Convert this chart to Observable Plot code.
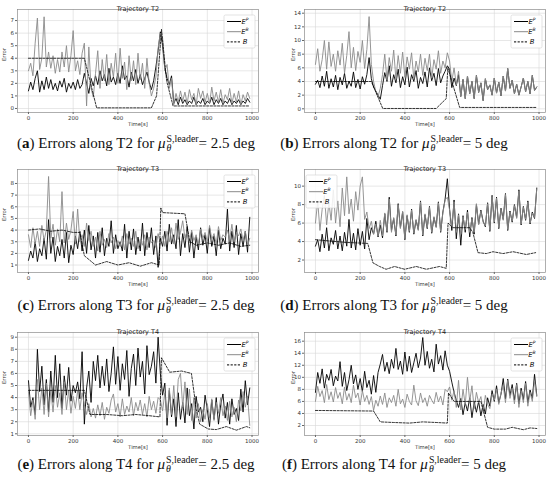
<!DOCTYPE html>
<html>
<head>
<meta charset="utf-8">
<script src="https://cdn.jsdelivr.net/npm/d3@7"></script>
<script src="https://cdn.jsdelivr.net/npm/@observablehq/plot@0.6"></script>
<style>
  html, body { margin: 0; padding: 0; background: #fff; }
  #root { position: relative; width: 550px; height: 485px; background: #fff; overflow: hidden; }
  .cell { position: absolute; }
  .cap { position: absolute; width: 275px; text-align: center; font-family: "Liberation Serif", "DejaVu Serif", serif; font-size: 15px; color: #111; white-space: nowrap; line-height: 18px; }
  .ss { display: inline-block; vertical-align: -0.35em; font-size: 0.66em; line-height: 0.95; text-align: left; margin-left: 1px; }
</style>
</head>
<body>
<div id="root"></div>
<script>
// ---------------- data (time step 10 s, t = 0 … 990) ----------------
const timeStep = 10;
const xTicks = [0, 200, 400, 600, 800, 1000];

// (a) T2, 2.5 deg
const a_EP = [1.4,2.1,1.5,2.4,3.0,1.3,2.2,1.5,2.5,1.6, 2.3,1.5,2.0,1.4,2.2,1.7,2.4,1.3,2.0,1.6,
  2.1,1.5,2.3,1.6,1.9,2.8,2.0,1.2,2.4,1.8, 2.6,1.9,3.0,2.2,2.7,1.8,3.2,2.1,2.5,1.9,
  2.8,2.0,3.4,2.3,2.6,1.7,2.9,2.2,3.1,2.0, 2.7,1.9,2.4,2.9,2.1,1.5,2.2,3.3,4.6,6.1,
  5.0,3.2,2.4,1.9,2.6,0.4,0.8,0.3,0.9,0.4, 0.7,0.3,0.6,0.4,0.9,0.3,0.6,0.4,0.8,0.3,
  0.6,0.4,0.9,0.3,0.7,0.4,0.8,0.3,0.6,0.4, 0.8,0.3,0.6,0.4,0.7,0.3,0.6,0.4,0.8,0.5];
const a_EB = [3.0,3.6,2.6,5.2,7.2,3.1,4.0,7.3,3.3,4.5, 3.2,4.2,2.8,3.9,2.9,4.5,3.3,5.0,2.9,4.2,
  6.2,3.0,3.8,2.7,4.4,5.2,0.2,4.9,1.6,0.9, 2.8,4.6,1.6,3.9,2.2,4.3,1.9,3.6,2.5,4.4,
  2.0,4.8,2.4,3.7,1.5,4.2,2.2,3.8,1.9,4.4, 2.3,3.6,1.6,4.0,2.0,1.0,1.6,2.5,4.8,6.0,
  5.6,3.0,3.5,1.6,2.4,0.3,1.2,0.5,1.4,0.6, 1.3,0.4,1.5,0.7,1.2,0.3,1.6,0.8,1.4,0.5,
  1.2,0.4,1.7,0.6,1.3,0.5,1.5,0.4,1.1,0.7, 1.6,0.4,1.2,0.5,1.4,0.3,1.1,0.6,1.3,0.8];
const a_Bt = [0, 250, 305, 550, 573, 595, 618, 647, 990];
const a_Bv = [4.0, 4.0, 0.05, 0.05, 1.0, 6.3, 2.2, 0.2, 0.2];

// (b) T2, 5 deg
const b_EP = [3.6,4.2,3.1,4.8,3.3,5.5,3.0,4.4,3.2,4.9, 2.8,4.6,3.5,5.2,3.0,4.0,3.3,5.4,3.1,4.3,
  2.9,4.7,3.6,5.0,7.5,4.4,3.2,2.6,2.0,1.4, 3.4,5.3,4.0,6.3,3.3,5.0,3.8,5.8,3.1,4.7,
  3.5,6.1,3.2,5.0,4.0,5.6,3.0,4.6,3.7,5.4, 3.2,6.0,4.1,5.2,3.4,5.9,3.8,4.8,5.5,6.3,
  5.8,3.1,4.5,3.4,5.0,1.8,4.3,1.5,4.8,2.2, 4.0,1.5,4.9,2.4,3.8,1.2,4.4,2.8,3.5,2.0,
  4.5,2.3,3.9,1.9,4.8,2.6,5.9,3.0,4.2,2.2, 3.6,2.0,3.2,4.5,2.5,4.0,2.2,4.9,2.7,3.2];
const b_EB = [6.5,8.8,5.5,7.2,10.0,5.8,9.8,6.2,8.0,5.5, 8.5,6.4,9.6,5.2,7.8,11.3,6.0,9.0,5.6,8.4,
  6.8,10.0,5.9,8.7,13.5,6.5,4.0,2.5,1.8,3.0, 5.0,8.0,4.2,7.5,5.5,8.6,4.3,7.8,5.2,8.3,
  4.6,7.6,5.8,8.2,4.4,7.0,5.4,8.0,4.9,7.4, 5.6,8.0,4.5,7.2,5.8,8.5,5.2,7.0,6.0,8.2,
  7.0,4.0,6.0,3.5,5.5,1.8,4.3,1.5,4.8,2.2, 4.0,1.5,4.9,2.4,3.8,1.2,4.4,2.8,3.5,2.0,
  4.5,2.3,3.9,1.9,4.8,2.6,5.9,3.0,4.2,2.2, 3.6,2.0,3.2,4.5,2.5,4.0,2.2,4.9,2.7,3.2];
const b_Bt = [0, 250, 301, 540, 585, 592, 645, 990];
const b_Bv = [4.0, 4.0, 0.05, 0.05, 1.5, 6.0, 0.2, 0.2];

// (c) T3, 2.5 deg
const c_EP = [1.4,2.2,1.6,3.0,1.3,2.4,1.8,3.3,1.5,4.9, 2.0,3.4,1.3,2.6,1.8,3.2,1.6,3.8,1.2,2.7,
  1.9,3.5,2.4,3.9,2.2,4.0,2.0,4.4,2.3,3.5, 1.6,3.8,2.1,4.2,1.8,3.3,2.6,4.8,2.0,3.6,
  2.4,3.0,2.2,4.5,1.6,3.9,2.3,4.1,1.9,3.4, 2.2,4.6,1.8,3.8,2.5,4.2,1.9,3.5,0.8,3.3,
  2.6,3.9,2.2,4.5,2.8,3.6,2.4,4.9,1.8,3.7, 2.5,4.3,2.1,3.8,1.6,3.4,2.3,4.2,2.7,3.6,
  2.0,4.2,2.6,3.5,1.8,4.0,2.4,3.3,2.8,5.8, 2.2,3.9,2.5,4.4,1.9,3.7,2.6,3.9,2.1,5.1];
const c_EB = [3.6,2.5,4.2,2.8,3.9,2.6,4.4,3.1,4.0,8.6, 3.3,4.5,2.7,4.1,3.0,7.3,2.9,4.6,3.2,4.0,
  5.6,2.8,5.8,3.0,3.6,2.6,4.6,3.1,3.9,2.6, 3.4,2.2,3.9,2.7,3.2,2.5,3.7,2.9,3.4,2.4,
  3.1,2.6,3.5,2.3,3.7,2.8,3.3,2.6,3.9,2.4, 3.2,2.7,3.6,2.3,3.4,2.9,3.1,2.5,3.7,2.8,
  3.5,2.6,3.9,3.0,4.2,2.8,4.6,3.2,3.8,4.8, 3.3,3.9,2.9,4.0,3.1,3.6,2.7,4.1,3.3,3.8,
  3.0,4.4,3.2,3.7,2.8,4.3,3.1,3.6,3.4,4.0, 3.2,4.5,3.0,3.8,3.5,4.1,3.1,3.9,2.7,3.3];
const c_Bt = [0,50,100,150,200,230,250,300,350,400,450,500,550,585,592,600,700,722,751,800,850,900,950,990];
const c_Bv = [4.0,4.1,3.9,4.0,3.8,3.8,1.8,1.0,1.3,1.0,1.2,0.9,1.2,1.0,5.9,5.5,5.4,3.0,2.7,2.9,2.7,2.9,2.6,2.7];

// (d) T3, 5 deg
const d_EP = [3.5,4.2,2.9,4.8,3.3,5.5,3.0,4.4,3.7,5.2, 3.2,4.6,3.0,5.0,3.5,6.4,3.3,4.9,3.1,5.4,
  3.6,5.1,3.2,6.5,4.2,5.5,4.8,6.2,4.5,5.8, 4.4,7.0,5.0,8.8,5.2,6.5,4.6,8.1,5.5,7.2,
  4.2,6.8,5.0,7.5,4.8,6.3,5.3,8.4,4.6,6.9, 5.4,7.8,4.9,6.6,5.6,8.3,5.0,7.2,8.6,10.8,
  7.5,5.2,8.5,4.3,7.0,3.6,6.8,5.0,7.4,4.5, 6.6,4.8,8.0,5.9,7.4,6.2,5.6,8.2,5.1,9.0,
  6.0,8.8,5.4,7.6,6.4,9.2,5.2,7.3,6.1,8.0, 6.6,9.6,5.8,7.8,6.3,8.4,5.9,7.2,6.5,9.8];
const d_EB = [6.0,8.4,5.2,7.5,9.0,5.8,8.2,6.3,9.6,6.0, 8.4,5.6,9.8,6.8,11.0,7.0,8.6,6.2,9.4,7.4,
  10.0,11.0,6.4,7.2,5.4,6.2,4.8,5.9,4.6,6.3, 4.6,7.1,5.1,8.6,5.0,6.6,4.7,8.0,5.4,7.3,
  4.3,6.9,5.1,7.4,4.9,6.4,5.2,8.3,4.7,7.0, 5.5,7.7,5.0,6.7,5.5,8.2,5.1,7.1,8.5,8.8,
  7.4,5.6,8.3,5.0,6.9,4.8,6.7,5.3,7.2,5.0, 6.5,5.0,8.1,5.8,7.3,6.1,5.7,8.1,5.2,8.9,
  6.1,8.7,5.5,7.5,6.3,9.1,5.3,7.2,6.2,7.9, 6.5,9.5,5.9,7.7,6.4,8.3,6.0,7.1,6.6,9.7];
const d_Bt = [0,140,234,257,287,316,354,399,451,496,555,585,593,615,690,704,727,764,794,839,884,943,985];
const d_Bv = [4.2,3.9,3.8,1.7,1.3,1.0,1.3,1.0,1.3,1.0,1.3,1.1,6.0,5.5,5.5,5.0,2.8,2.7,2.9,2.7,2.9,2.6,2.8];

// (e) T4, 2.5 deg
const e_EP = [5.4,3.2,4.0,2.6,8.0,4.5,6.6,3.4,5.5,2.8, 6.2,3.6,7.5,4.0,6.8,3.1,5.8,4.2,6.5,3.7,
  5.0,4.4,5.3,3.9,7.8,1.8,4.8,6.2,3.6,7.0, 5.4,7.5,4.8,6.6,5.0,7.2,4.5,6.0,8.2,5.1,
  7.4,4.6,6.8,5.5,7.9,4.1,6.4,7.6,5.0,8.1, 5.7,7.0,4.3,8.3,5.9,6.6,7.8,5.2,9.0,6.0,
  4.2,5.2,1.7,4.6,2.4,3.9,1.6,4.4,2.2,3.6, 1.9,4.8,2.5,3.5,1.4,4.1,2.8,3.2,2.0,4.2,
  3.0,1.6,3.8,2.2,4.0,1.8,3.4,4.3,2.3,3.6, 1.8,3.9,2.6,3.1,2.1,4.7,2.8,5.4,3.4,4.8];
const e_EB = [4.5,2.5,3.8,2.2,5.5,3.0,4.8,2.6,5.2,2.4, 4.6,2.8,5.0,3.2,4.4,2.6,5.3,3.0,4.6,2.7,
  4.1,3.1,4.6,3.0,4.4,3.4,2.6,3.5,2.4,3.1, 2.3,3.4,2.5,3.6,2.2,3.2,2.7,3.8,4.3,2.8,
  3.5,2.4,3.9,2.6,3.3,2.8,4.0,2.5,3.6,2.9, 3.8,2.6,3.5,2.4,4.1,3.0,3.7,2.7,4.0,3.8,
  2.9,4.4,2.3,4.8,2.6,5.0,2.4,5.5,6.0,3.2, 5.3,2.6,4.7,2.1,4.0,2.3,3.5,2.0,3.0,2.2,
  3.5,2.3,3.9,2.1,3.6,2.7,4.0,2.5,3.3,2.1, 3.7,2.4,3.2,2.0,3.8,2.9,4.5,3.2,4.1,1.7];
const e_Bt = [0,250,275,350,420,480,540,588,595,632,685,729,751,766,804,840,885,930,975,990];
const e_Bv = [4.6,4.6,2.6,2.6,2.5,2.6,2.5,2.4,7.3,6.1,6.2,6.0,3.0,1.8,1.4,1.35,1.6,1.3,1.6,1.5];

// (f) T4, 5 deg
const f_EP = [7.5,10.8,9.0,11.4,8.2,10.5,9.5,11.3,8.6,10.2, 9.4,12.6,8.5,10.8,7.8,9.6,12.0,8.9,10.4,8.0,
  9.8,7.6,11.0,8.3,9.5,7.2,10.3,7.5,10.8,12.2, 13.8,11.0,12.5,10.6,13.0,11.5,14.8,11.3,12.7,10.5,
  14.2,11.0,13.5,10.8,12.4,14.0,11.6,13.2,16.6,12.0, 14.3,11.5,13.0,10.9,15.5,12.2,13.6,11.2,14.4,12.0,
  11.0,9.2,7.5,6.2,5.0,6.5,3.8,5.8,4.4,6.6, 3.3,5.9,4.2,6.0,3.6,5.5,3.9,6.6,5.2,7.8,
  6.0,8.6,5.8,7.2,9.8,6.4,9.7,7.0,8.8,6.2, 9.0,5.6,8.2,6.3,9.3,5.8,7.9,6.5,10.5,7.0];
const f_EB = [6.0,8.5,6.8,7.8,5.8,8.8,6.3,7.6,5.9,8.3, 6.5,7.5,5.6,8.4,6.2,7.3,5.8,8.7,6.6,7.4,
  5.4,7.8,6.0,7.0,5.5,6.8,4.5,6.2,5.2,6.9, 5.5,7.4,5.0,6.6,5.8,7.0,5.2,8.0,5.6,6.4,
  5.0,7.2,6.0,5.4,8.7,6.1,5.3,7.4,5.8,6.6, 5.2,7.0,6.2,5.6,7.5,5.9,6.9,5.4,8.0,7.6,
  8.4,6.2,7.8,5.0,9.5,4.6,8.0,5.5,10.0,6.0, 8.6,4.8,7.5,5.8,6.8,4.2,7.0,5.5,4.8,7.2,
  6.2,8.0,5.5,7.4,8.6,5.8,9.5,6.5,8.2,5.6, 8.8,5.0,7.8,5.8,9.0,5.2,7.5,6.0,9.4,6.8];
const f_Bt = [0,260,290,350,420,480,540,590,595,620,740,770,800,850,880,930,960,990];
const f_Bv = [4.5,4.4,2.6,2.5,2.4,2.6,2.5,2.4,7.4,6.0,6.0,1.7,1.4,1.4,1.7,1.3,1.6,1.5];

// y-axis domains and ticks
const a_yDomain = [-0.32, 7.88], a_yTicks = [0,1,2,3,4,5,6,7];
const b_yDomain = [-0.54, 14.54], b_yTicks = [0,2,4,6,8,10,12,14];
const c_yDomain = [0.36, 9.2], c_yTicks = [1,2,3,4,5,6,7,8];
const d_yDomain = [0.65, 11.8], d_yTicks = [2,4,6,8,10];
const e_yDomain = [0.86, 9.39], e_yTicks = [1,2,3,4,5,6,7,8,9];
const f_yDomain = [0.34, 17.44], f_yTicks = [2,4,6,8,10,12,14,16];

const titles = ["Trajectory T2","Trajectory T2","Trajectory T3","Trajectory T3","Trajectory T4","Trajectory T4"];
const capLetters = ["a","b","c","d","e","f"];
const capTraj = ["T2","T2","T3","T3","T4","T4"];
const capDeg = ["2.5","5","2.5","5","2.5","5"];

// ---------------- drawing ----------------
const panels = [
  {ep:a_EP, eb:a_EB, bt:a_Bt, bv:a_Bv, yd:a_yDomain, yt:a_yTicks, legendLeft:false},
  {ep:b_EP, eb:b_EB, bt:b_Bt, bv:b_Bv, yd:b_yDomain, yt:b_yTicks, legendLeft:false},
  {ep:c_EP, eb:c_EB, bt:c_Bt, bv:c_Bv, yd:c_yDomain, yt:c_yTicks, legendLeft:false},
  {ep:d_EP, eb:d_EB, bt:d_Bt, bv:d_Bv, yd:d_yDomain, yt:d_yTicks, legendLeft:true},
  {ep:e_EP, eb:e_EB, bt:e_Bt, bv:e_Bv, yd:e_yDomain, yt:e_yTicks, legendLeft:false},
  {ep:f_EP, eb:f_EB, bt:f_Bt, bv:f_Bv, yd:f_yDomain, yt:f_yTicks, legendLeft:false}
];

const root = document.getElementById("root");
const rowTop = [0, 160, 323];
const capCenterY = [143, 305, 464];
const W = 275, H = 132;
const mTop = 9, mBottom = H - 112;

panels.forEach((p, i) => {
  const col = i % 2, row = Math.floor(i / 2);
  const mLeft = col === 0 ? 17 : 29;
  const mRight = col === 0 ? 17 : 5;
  const ep = p.ep.map((v, k) => ({t: k * timeStep, v}));
  const eb = p.eb.map((v, k) => ({t: k * timeStep, v}));
  const b = p.bt.map((t, k) => ({t, v: p.bv[k]}));

  const svg = Plot.plot({
    width: W, height: H,
    marginLeft: mLeft, marginRight: mRight, marginTop: mTop, marginBottom: mBottom,
    style: {fontFamily: "DejaVu Sans", fontSize: "5.5px", color: "#333", background: "transparent", overflow: "visible"},
    x: {domain: [-49, 1029]},
    y: {domain: p.yd},
    marks: [
      Plot.gridX(xTicks, {stroke: "#d6d6d6", strokeOpacity: 1, strokeWidth: 0.6}),
      Plot.gridY(p.yt, {stroke: "#d6d6d6", strokeOpacity: 1, strokeWidth: 0.6}),
      Plot.line(ep, {x: "t", y: "v", stroke: "#000", strokeWidth: 0.9}),
      Plot.line(eb, {x: "t", y: "v", stroke: "#8a8a8a", strokeWidth: 0.9}),
      Plot.line(b, {x: "t", y: "v", stroke: "#000", strokeWidth: 0.8, strokeDasharray: "2.2,1.4"}),
      Plot.frame({stroke: "#8c8c8c", strokeWidth: 0.7}),
      Plot.axisX(xTicks, {tickSize: 2, tickPadding: 1.5, label: null, tickFormat: d => String(d), stroke: "#666"}),
      Plot.axisY(p.yt, {tickSize: 2, tickPadding: 1.5, label: null, tickFormat: d => String(d), stroke: "#666"}),
      Plot.text([titles[i]], {frameAnchor: "top", dy: -3.5, fontSize: 6.5, fill: "#222", text: d => d}),
      Plot.text(["Time[s]"], {frameAnchor: "bottom", dy: 13.5, fontSize: 5.3, fill: "#333", text: d => d}),
      Plot.text(["Error"], {frameAnchor: "left", dx: col === 0 ? -13 : -11, rotate: -90, fontSize: 5.3, fill: "#333", text: d => d})
    ]
  });

  // legend
  const lw = 31, lh = 33;
  const lx = p.legendLeft ? mLeft + 2 : W - mRight - lw - 3;
  const ly = mTop + 6;
  const g = d3.select(svg).append("g").attr("transform", `translate(${lx},${ly})`);
  g.append("rect").attr("width", lw).attr("height", lh).attr("rx", 1.5)
    .attr("fill", "#fff").attr("fill-opacity", 0.85).attr("stroke", "#d0d0d0").attr("stroke-width", 0.6);
  const entries = [
    {c: "#000", dash: null, main: "E", sup: "P"},
    {c: "#8a8a8a", dash: null, main: "E", sup: "B"},
    {c: "#000", dash: "2.2,1.4", main: "B", sup: null}
  ];
  entries.forEach((e, k) => {
    const yy = 6.5 + k * 10.2;
    const ln = g.append("line").attr("x1", 3).attr("x2", 17).attr("y1", yy).attr("y2", yy)
      .attr("stroke", e.c).attr("stroke-width", 1);
    if (e.dash) ln.attr("stroke-dasharray", e.dash);
    const tx = g.append("text").attr("x", 21).attr("y", yy + 2.4)
      .attr("font-family", "DejaVu Sans").attr("font-size", 6.8).attr("font-style", "italic").attr("fill", "#111");
    tx.append("tspan").text(e.main);
    if (e.sup) tx.append("tspan").attr("dy", -2.7).attr("font-size", 4.5).text(e.sup);
  });

  const cell = document.createElement("div");
  cell.className = "cell";
  cell.style.left = (col * 275) + "px";
  cell.style.top = rowTop[row] + "px";
  cell.appendChild(svg);
  root.appendChild(cell);

  const cap = document.createElement("div");
  cap.className = "cap";
  cap.style.left = (col === 0 ? 136 - 137.5 : 394 - 137.5) + "px";
  cap.style.top = (capCenterY[row] - 9) + "px";
  cap.innerHTML = `(<b>${capLetters[i]}</b>) Errors along ${capTraj[i]} for <i>μ</i><span class="ss">S,leader<br><i>θ</i></span>= ${capDeg[i]} deg`;
  root.appendChild(cap);
});
</script>
</body>
</html>
